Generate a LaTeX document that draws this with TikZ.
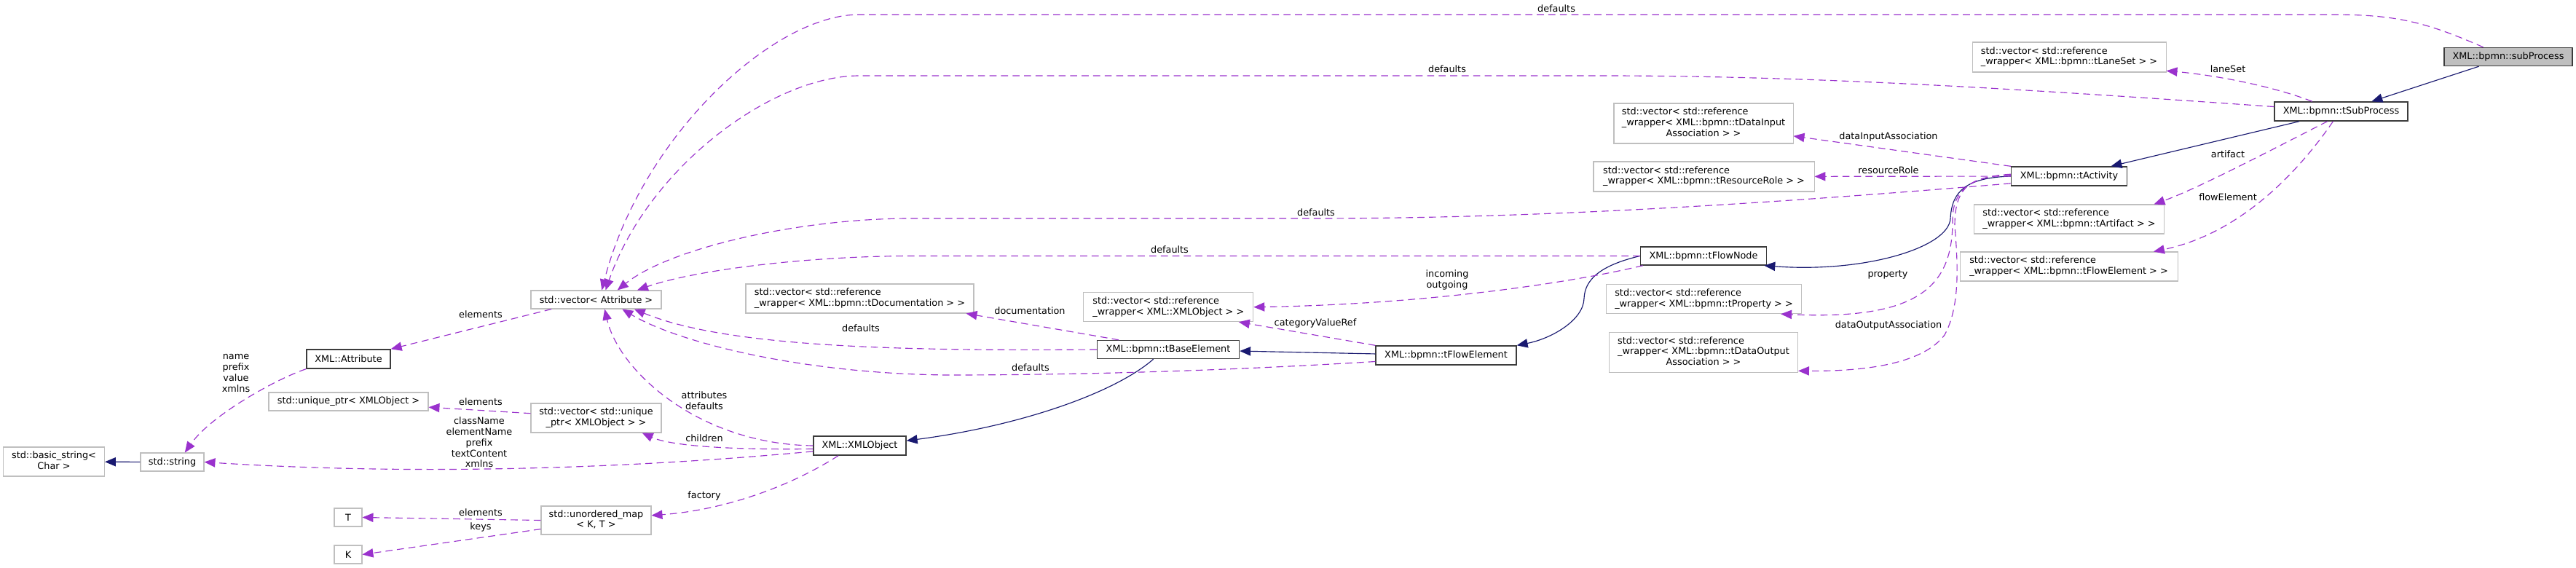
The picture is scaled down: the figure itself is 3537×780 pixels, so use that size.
\documentclass[tikz,border=0pt]{standalone}
\usepackage{fontspec}
\setmainfont{DejaVu Sans}
\usetikzlibrary{arrows.meta}
\definecolor{dxpurple}{RGB}{154,50,205}
\definecolor{dxblue}{RGB}{25,25,112}
\definecolor{dxgray}{RGB}{191,191,191}
\definecolor{dxdark}{RGB}{60,60,60}
\newcommand{\dxfont}{\fontsize{7.3}{8.4}\selectfont}
% wrapped class names: left-justified lines, last line centred
\newcommand{\twoline}[2]{\begin{tabular}{@{}l@{}}#1\\\multicolumn{1}{@{}c@{}}{#2}\end{tabular}}
\newcommand{\threeline}[3]{\begin{tabular}{@{}l@{}}#1\\#2\\\multicolumn{1}{@{}c@{}}{#3}\end{tabular}}
\tikzset{
  sz/.style 2 args = {minimum width=#1*0.02cm, minimum height=#2*0.02cm},
  cls/.style   = {draw=dxdark, line width=0.8pt, fill=white, inner sep=0pt, font=\dxfont},
  ext/.style   = {cls, draw=dxgray, line width=0.6pt},
  focus/.style = {cls, fill=dxgray},
  dep/.style   = {draw=dxpurple, line width=0.65pt, dash pattern=on 5.5pt off 3.5pt,
                  -{Triangle[length=8.5pt,width=7pt]}},
  inh/.style   = {draw=dxblue, line width=0.65pt, -{Triangle[length=8.5pt,width=7pt]}},
  lbl/.style   = {font=\dxfont, inner sep=0pt, align=center},
}
\begin{document}
\begin{tikzpicture}[x=0.02cm, y=-0.02cm]
  \path[fill=white, use as bounding box] (0,0) rectangle (3537,780);

  % classes
  \node[focus, sz={176}{25}] (subProc) at (3444,78) {XML::bpmn::subProcess};
  \node[cls, sz={183}{26}] (tSub) at (3214.5,153) {XML::bpmn::tSubProcess};
  \node[ext, sz={266}{41}] (vLane) at (2841,78.5)
       {\twoline{std::vector< std::reference}{\_wrapper< XML::bpmn::tLaneSet > >}};
  \node[cls, sz={159}{26}] (tAct) at (2841,242) {XML::bpmn::tActivity};
  \node[ext, sz={261}{40}] (vArt) at (2841,301)
       {\twoline{std::vector< std::reference}{\_wrapper< XML::bpmn::tArtifact > >}};
  \node[ext, sz={299}{40}] (vFlowEl) at (2840.5,366)
       {\twoline{std::vector< std::reference}{\_wrapper< XML::bpmn::tFlowElement > >}};
  \node[ext, sz={246}{55}] (vDataIn) at (2339,169.5)
       {\threeline{std::vector< std::reference}{\_wrapper< XML::bpmn::tDataInput}{Association > >}};
  \node[ext, sz={303}{41}] (vRes) at (2339.5,242.5)
       {\twoline{std::vector< std::reference}{\_wrapper< XML::bpmn::tResourceRole > >}};
  \node[cls, sz={173}{25}] (tFlowNode) at (2339,351.5) {XML::bpmn::tFlowNode};
  \node[ext, sz={268}{40}] (vProp) at (2339.5,410.7)
       {\twoline{std::vector< std::reference}{\_wrapper< XML::bpmn::tProperty > >}};
  \node[ext, sz={259}{55}] (vDataOut) at (2339,484)
       {\threeline{std::vector< std::reference}{\_wrapper< XML::bpmn::tDataOutput}{Association > >}};
  \node[ext, sz={233}{40}] (vObjRef) at (1604.3,421.7)
       {\twoline{std::vector< std::reference}{\_wrapper< XML::XMLObject > >}};
  \node[cls, sz={195}{25}] (tBase) at (1604,480) {XML::bpmn::tBaseElement};
  \node[cls, sz={193}{26}] (tFlowEl) at (1985.5,488) {XML::bpmn::tFlowElement};
  \node[ext, sz={313}{40}] (vDoc) at (1180.5,410)
       {\twoline{std::vector< std::reference}{\_wrapper< XML::bpmn::tDocumentation > >}};
  \node[ext, sz={179}{25}] (vAttr) at (818.5,411.5) {std::vector< Attribute >};
  \node[cls, sz={115}{26}] (attr) at (478.5,493) {XML::Attribute};
  \node[ext, sz={219}{25}] (uptr) at (478.5,551.5) {std::unique\_ptr< XMLObject >};
  \node[ext, sz={179}{40}] (vUptr) at (818.5,574)
       {\twoline{std::vector< std::unique}{\_ptr< XMLObject > >}};
  \node[cls, sz={127}{26}] (xmlObj) at (1180.5,612) {XML::XMLObject};
  \node[ext, sz={151}{39}] (umap) at (818.5,714.5) {\twoline{std::unordered\_map}{< K, T >}};
  \node[ext, sz={38}{25}] (nodeT) at (478,710.5) {T};
  \node[ext, sz={38}{25}] (nodeK) at (478,761.5) {K};
  \node[ext, sz={87}{25}] (str) at (236.5,634.5) {std::string};
  \node[ext, sz={139}{40}] (bstr) at (74,634) {\twoline{std::basic\_string<}{Char >}};

  % inheritance
  \draw[inh] (subProc) -- (tSub);
  \draw[inh] (tSub) -- (tAct);
  \draw[inh] (tAct.west) .. controls (2700,244) and (2680,262) .. (2678,300)
             .. controls (2676,340) and (2560,375) .. (tFlowNode.351);
  \draw[inh] (tFlowNode.west) .. controls (2195,365) and (2176,385) .. (2175,410)
             .. controls (2174,440) and (2130,465) .. (tFlowEl.north east);
  \draw[inh] (tFlowEl) -- (tBase);
  \draw[inh] (tBase.213) .. controls (1530,540) and (1400,585) .. (xmlObj.6);
  \draw[inh] (str) -- (bstr);

  % members
  \draw[dep] (subProc.159) .. controls (3330,30) and (3290,20) .. (3200,20) -- (1180,20)
             .. controls (1060,20) and (880,190) .. (vAttr.59);
  \draw[dep] (tSub.176) .. controls (2800,124) and (2500,104) .. (2200,104) -- (1180,104)
             .. controls (1060,104) and (890,230) .. (vAttr.45);
  \draw[dep] (tSub.161) .. controls (3120,118) and (3040,103) .. (vLane.352.5);
  \draw[dep] (tSub.216.6) .. controls (3130,200) and (3020,258) .. (vArt.10.6);
  \draw[dep] (tSub.231) .. controls (3160,230) and (3080,320) .. (vFlowEl.10);
  \draw[dep] (tAct.north west) -- (vDataIn.352);
  \draw[dep] (tAct) -- (vRes);
  \draw[dep] (tAct.187) .. controls (2400,282) and (2100,300) .. (1800,300) -- (1250,300)
             .. controls (1100,300) and (920,340) .. (vAttr.24);
  \draw[dep] (tAct.178) .. controls (2700,243) and (2682,265) .. (2681,300)
             .. controls (2682,390) and (2640,440) .. (vProp.349);
  \draw[dep] (tAct.179) .. controls (2700,241) and (2684,262) .. (2684,310)
             .. controls (2688,360) and (2692,420) .. (2670,460)
             .. controls (2640,500) and (2560,510) .. (vDataOut.349.5);
  \draw[dep] (tFlowNode.west) -- (1250,351.5) .. controls (1100,352) and (950,372) .. (vAttr.13.6);
  \draw[dep] (tFlowNode.189) .. controls (2150,390) and (1950,418) .. (vObjRef.east);
  \draw[dep] (tFlowEl.north west) -- (vObjRef.348);
  \draw[dep] (tFlowEl.185.3) .. controls (1700,508) and (1500,515) .. (1300,515)
             .. controls (1100,513) and (930,470) .. (vAttr.340);
  \draw[dep] (tBase.west) .. controls (1250,482) and (1000,478) .. (vAttr.346.4);
  \draw[dep] (tBase.169) -- (vDoc.352);
  \draw[dep] (xmlObj.west) .. controls (960,610) and (850,510) .. (vAttr.312.6);
  \draw[dep] (xmlObj.184.5) .. controls (1000,618) and (920,612) .. (vUptr.342);
  \draw[dep] (xmlObj.187) .. controls (900,640) and (600,655) .. (str.east);
  \draw[dep] (xmlObj.205.3) .. controls (1090,665) and (1000,700) .. (umap.5);
  \draw[dep] (vAttr.192.7) -- (attr.north east);
  \draw[dep] (attr.south west) .. controls (380,520) and (290,570) .. (str.37);
  \draw[dep] (vUptr.176.2) -- (uptr.356);
  \draw[dep] (umap.west) -- (nodeT.east);
  \draw[dep] (umap.189.4) -- (nodeK.east);

  % member names
  \node[lbl] (lDefSub) at (2137,11.5) {defaults};
  \node[lbl] (lDefTSub) at (1987,95) {defaults};
  \node[lbl] (lLane) at (3059,95) {laneSet};
  \node[lbl] (lArt) at (3059,212) {artifact};
  \node[lbl] (lFlowEl) at (3059,270.5) {flowElement};
  \node[lbl] (lDataIn) at (2593,188) {dataInputAssociation};
  \node[lbl] (lRes) at (2593,234) {resourceRole};
  \node[lbl] (lDefAct) at (1807,292) {defaults};
  \node[lbl] (lProp) at (2592,377.5) {property};
  \node[lbl] (lDataOut) at (2593,446.7) {dataOutputAssociation};
  \node[lbl] (lDefNode) at (1606,343) {defaults};
  \node[lbl] (lInOut) at (1987,384.5) {incoming\\outgoing};
  \node[lbl] (lCat) at (1806,444) {categoryValueRef};
  \node[lbl] (lDefFlow) at (1415,504.5) {defaults};
  \node[lbl] (lDefBase) at (1182,450.5) {defaults};
  \node[lbl] (lDoc) at (1414,426.5) {documentation};
  \node[lbl] (lAttrDef) at (967,550) {attributes\\defaults};
  \node[lbl] (lChild) at (967,602) {children};
  \node[lbl] (lFactory) at (967,681) {factory};
  \node[lbl] (lStrMem) at (658,607.5) {className\\elementName\\prefix\\textContent\\xmlns};
  \node[lbl] (lElemAttr) at (660,431.7) {elements};
  \node[lbl] (lElemPtr) at (660,551.7) {elements};
  \node[lbl] (lAttrMem) at (324,512.6) {name\\prefix\\value\\xmlns};
  \node[lbl] (lElemT) at (660,703.7) {elements};
  \node[lbl] (lKeys) at (660,724) {keys};
\end{tikzpicture}
\end{document}
